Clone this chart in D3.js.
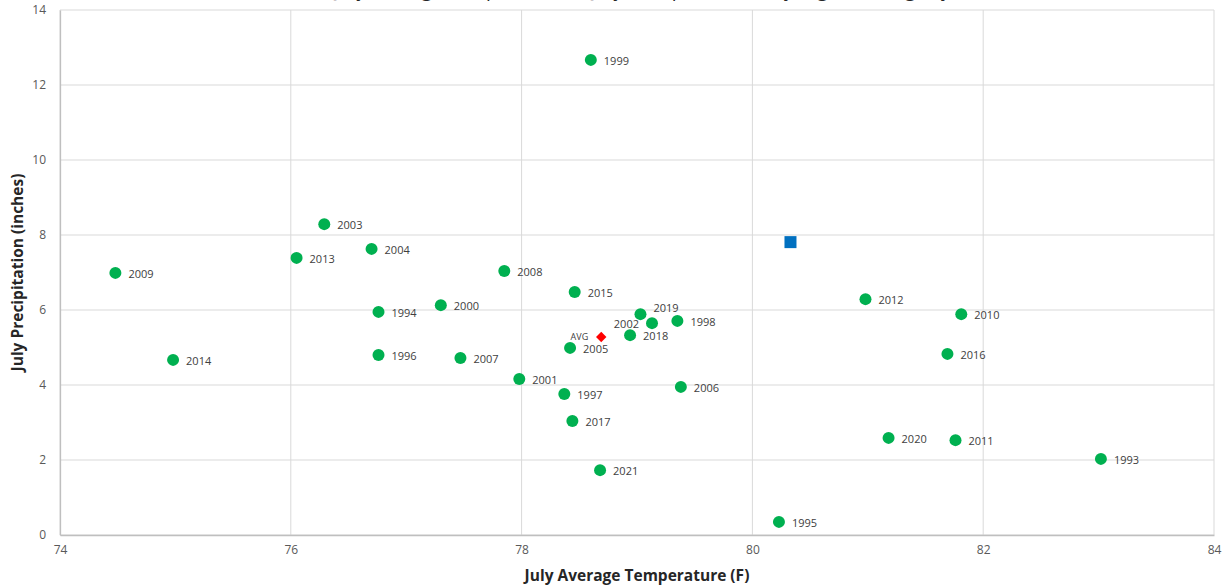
<!DOCTYPE html>
<html>
<head>
<meta charset="utf-8">
<script src="https://cdn.jsdelivr.net/npm/d3@7"></script>
<style>
  body { margin: 0; background: #fff; }
  svg { display: block; font-family: "Open Sans", sans-serif; }
</style>
</head>
<body>
<div id="chart"></div>
<script>
const years = ["1999", "2003", "2004", "2013", "2009", "2008", "2015", "1994", "2000", "2019",
    "2002", "1998", "2018", "2005", "1996", "2007", "2014", "2001", "1997", "2006",
    "2017", "2021", "1995", "2012", "2010", "2016", "2020", "2011", "1993"];
const temps = [78.60, 76.29, 76.70, 76.05, 74.48, 77.85, 78.46, 76.76, 77.30, 79.03,
    79.13, 79.35, 78.94, 78.42, 76.76, 77.47, 74.98, 77.98, 78.37, 79.38,
    78.44, 78.68, 80.23, 80.98, 81.81, 81.69, 81.18, 81.76, 83.02];
const precips = [12.67, 8.29, 7.63, 7.39, 6.99, 7.04, 6.48, 5.95, 6.13, 5.89,
    5.65, 5.71, 5.33, 4.99, 4.80, 4.72, 4.67, 4.16, 3.76, 3.95,
    3.04, 1.73, 0.35, 6.29, 5.89, 4.83, 2.59, 2.53, 2.03];

const avgPoint = [{ label: "AVG", temp: 78.69, precip: 5.28 }];
const currentPoint = [{ temp: 80.33, precip: 7.81 }];

const xTicks = [74, 76, 78, 80, 82, 84];
const yTicks = [0, 2, 4, 6, 8, 10, 12, 14];

const title = "July Average Temperature vs July Precipitation, Daily High Readings by Year";

const width = 1224;
const height = 587;
const margin = { top: 10, right: 10, bottom: 52, left: 60 };

const svg = d3.select("#chart")
    .append("svg")
    .attr("width", width)
    .attr("height", height);

const x = d3.scaleLinear()
    .domain([74, 84])
    .range([margin.left, width - margin.right]);

const y = d3.scaleLinear()
    .domain([0, 14])
    .range([height - margin.bottom, margin.top]);

// title sits above the visible area, only descenders peek in (as in the source image)
svg.append("text")
    .attr("x", 665)
    .attr("y", -3)
    .attr("text-anchor", "middle")
    .attr("font-size", 19)
    .attr("fill", "#262626")
    .text(title);

// gridlines
svg.append("g")
    .selectAll("line")
    .data(xTicks)
    .join("line")
    .attr("x1", d => x(d)).attr("x2", d => x(d))
    .attr("y1", y(14)).attr("y2", y(0))
    .attr("stroke", "#d9d9d9")
    .attr("stroke-width", 1);

svg.append("g")
    .selectAll("line")
    .data(yTicks)
    .join("line")
    .attr("x1", x(74)).attr("x2", x(84))
    .attr("y1", d => y(d)).attr("y2", d => y(d))
    .attr("stroke", "#d9d9d9")
    .attr("stroke-width", 1);

// axes
const xAxis = svg.append("g")
    .attr("transform", "translate(0," + y(0) + ")")
    .call(d3.axisBottom(x).tickValues(xTicks).tickSize(0).tickPadding(10));

const yAxis = svg.append("g")
    .attr("transform", "translate(" + x(74) + ",0)")
    .call(d3.axisLeft(y).tickValues(yTicks).tickSize(0).tickPadding(14));

[xAxis, yAxis].forEach(a => {
    a.select(".domain").attr("stroke", "#bfbfbf").attr("stroke-width", 1.3);
    a.selectAll("text")
        .attr("font-family", "Open Sans, sans-serif")
        .attr("font-size", 12)
        .attr("fill", "#595959");
});

// axis titles
svg.append("text")
    .attr("x", x(79))
    .attr("y", 581)
    .attr("text-anchor", "middle")
    .attr("font-size", 15.5)
    .attr("font-weight", "bold")
    .attr("fill", "#262626")
    .text("July Average Temperature (F)");

svg.append("text")
    .attr("transform", "translate(23," + y(7) + ") rotate(-90)")
    .attr("text-anchor", "middle")
    .attr("font-size", 15.5)
    .attr("font-weight", "bold")
    .attr("fill", "#262626")
    .text("July Precipitation (inches)");

// points
const points = years.map((yr, i) => ({ year: yr, temp: temps[i], precip: precips[i] }));

const labelLeft = ["2002"];
const labelAbove = ["2019"];

svg.append("g")
    .selectAll("circle")
    .data(points)
    .join("circle")
    .attr("cx", d => x(d.temp))
    .attr("cy", d => y(d.precip))
    .attr("r", 6)
    .attr("fill", "#00b050");

svg.append("g")
    .selectAll("text")
    .data(points)
    .join("text")
    .attr("x", d => labelLeft.includes(d.year) ? x(d.temp) - 13 : x(d.temp) + 13)
    .attr("y", d => labelAbove.includes(d.year) ? y(d.precip) - 6 : y(d.precip) + 1)
    .attr("dy", "0.35em")
    .attr("text-anchor", d => labelLeft.includes(d.year) ? "end" : "start")
    .attr("font-size", 11)
    .attr("fill", "#404040")
    .text(d => d.year);

// average marker
svg.append("g")
    .selectAll("path")
    .data(avgPoint)
    .join("path")
    .attr("d", d3.symbol(d3.symbolDiamond2, 70))
    .attr("transform", d => "translate(" + x(d.temp) + "," + y(d.precip) + ")")
    .attr("fill", "#ff0000");

svg.append("g")
    .selectAll("text")
    .data(avgPoint)
    .join("text")
    .attr("x", d => x(d.temp) - 13)
    .attr("y", d => y(d.precip))
    .attr("dy", "0.35em")
    .attr("text-anchor", "end")
    .attr("font-size", 9)
    .attr("fill", "#404040")
    .text(d => d.label);

// current year marker
svg.append("g")
    .selectAll("rect")
    .data(currentPoint)
    .join("rect")
    .attr("x", d => x(d.temp) - 6)
    .attr("y", d => y(d.precip) - 6)
    .attr("width", 12)
    .attr("height", 12)
    .attr("fill", "#0070c0");
</script>
</body>
</html>
